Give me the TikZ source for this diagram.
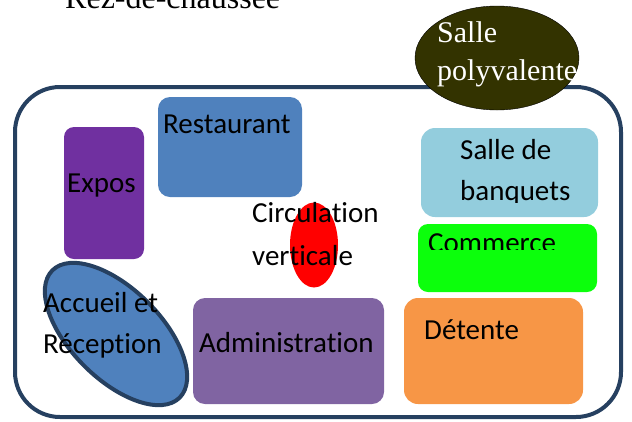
\documentclass[tikz,border=0pt]{standalone}
\usepackage{fontspec}
\setmainfont{Carlito}[Ligatures=NoCommon]
\newfontfamily\timesfont{Liberation Serif}
\usetikzlibrary{shapes.geometric}
\definecolor{cadre}{RGB}{38,64,96}
\definecolor{polyfill}{RGB}{51,51,0}
\definecolor{restobleu}{RGB}{79,129,189}
\definecolor{expoviolet}{RGB}{112,48,160}
\definecolor{banqbleu}{RGB}{147,205,221}
\definecolor{commvert}{RGB}{12,255,12}
\definecolor{adminviolet}{RGB}{128,100,162}
\definecolor{detorange}{RGB}{247,150,70}

\begin{document}
\begin{tikzpicture}[x=1pt,y=-1pt,
    txt/.style={anchor=base west, inner sep=0pt, font=\fontsize{29}{35}\selectfont},
    serif/.style={anchor=base west, inner sep=0pt, font=\timesfont\fontsize{30}{36}\selectfont},
    zone/.style={rounded corners=12pt}]
    \useasboundingbox (0,0) rectangle (632,421);
    % titre
    \node[serif, font=\timesfont\fontsize{32}{38}\selectfont] (titre) at (65,8) {Rez-de-chaussée};
    % cadre du plan
    \draw[cadre, line width=4pt, rounded corners=45pt] (15,87) rectangle (621,417);
    % salle polyvalente
    \node[ellipse, draw=black, fill=polyfill, minimum width=164pt, minimum height=104pt] (poly) at (497,58) {};
    \node[serif, white] (salle) at (437,42) {Salle};
    \node[serif, white] (polyv) at (437,80) {polyvalente};
    % zones
    \fill[zone, restobleu] (158,97) rectangle (302,197);
    \node[txt] (resto) at (163,133) {Restaurant};
    \fill[zone, rounded corners=10pt, expoviolet] (64,127) rectangle (144,259);
    \node[txt] (expos) at (67,192) {Expos};
    \fill[zone, rounded corners=14pt, banqbleu] (421,128) rectangle (598,217);
    \begin{scope}
        \clip (421,128) rectangle (598,202);
        \node[txt] (banq1) at (460,159) {Salle de};
        \node[txt] (banq2) at (460,200) {banquets};
    \end{scope}
    \fill[zone, rounded corners=10pt, commvert] (418,224) rectangle (597,292);
    \begin{scope}
        \clip (418,224) rectangle (597,249);
        \node[txt] (comm) at (428,252) {Commerce};
    \end{scope}
    % circulation verticale
    \node[ellipse, fill=red, minimum width=48pt, minimum height=85pt, inner sep=0pt] (circ) at (314,245) {};
    \node[txt] (circ1) at (252,222) {Circulation};
    \node[txt] (circ2) at (252,265) {verticale};
    % accueil
    \node[ellipse, draw=cadre, line width=4pt, fill=restobleu, minimum width=180pt, minimum height=90pt, rotate=-45] (accueil) at (116,334) {};
    \node[txt] (acc1) at (43,312) {Accueil et};
    \node[txt] (acc2) at (43,353) {Réception};
    \fill[zone, adminviolet] (193,298) rectangle (384,404);
    \node[txt] (admin) at (199,352) {Administration};
    \fill[zone, rounded corners=14pt, detorange] (404,298) rectangle (583,404);
    \node[txt] (detente) at (424,339) {Détente};
\end{tikzpicture}
\end{document}
